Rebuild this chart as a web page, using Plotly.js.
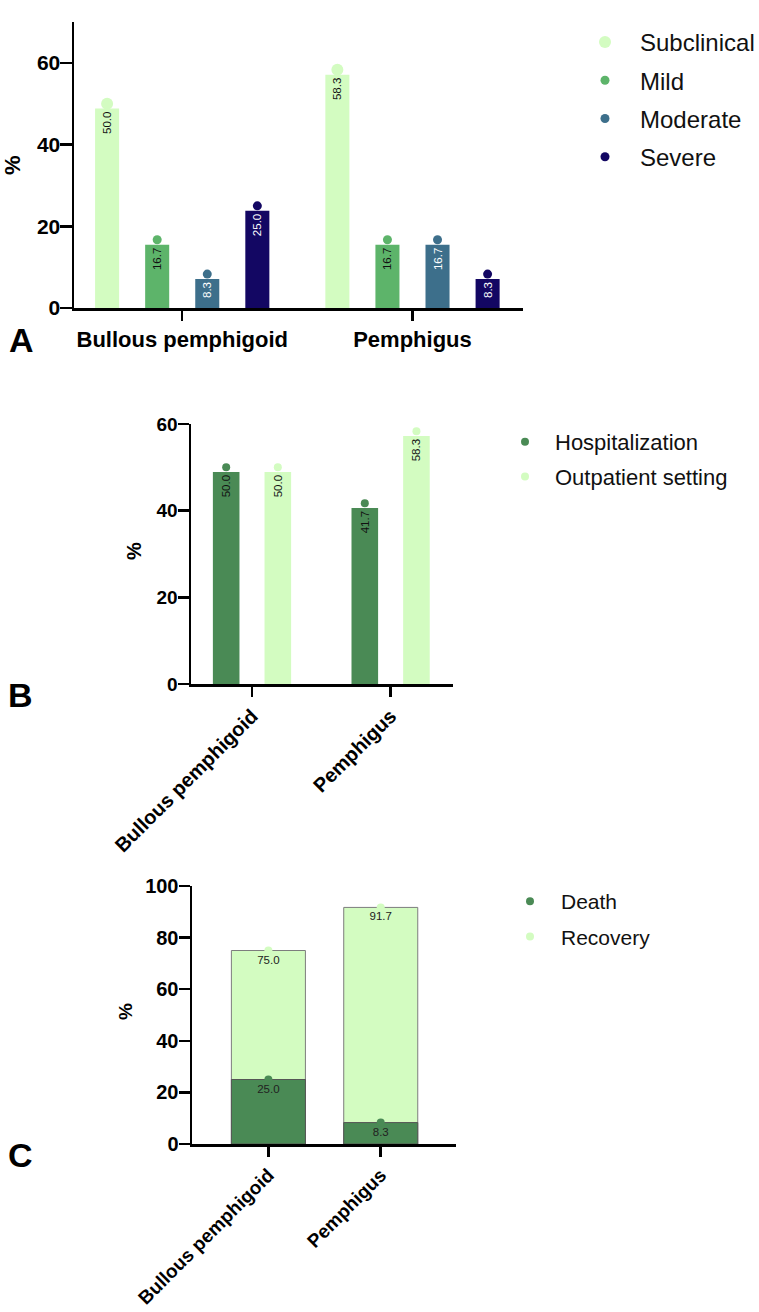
<!DOCTYPE html>
<html>
<head>
<meta charset="utf-8">
<script src="https://cdn.plot.ly/plotly-3.0.1.min.js"></script>
<style>
  html, body { margin: 0; padding: 0; background: #fff; }
  #wrap { position: relative; width: 759px; height: 1312px; background: #fff; }
  .panel { position: absolute; left: 0; width: 759px; }
</style>
</head>
<body>
<div id="wrap">
  <div id="pA" class="panel" style="top:0px;height:380px;"></div>
  <div id="pB" class="panel" style="top:380px;height:480px;"></div>
  <div id="pC" class="panel" style="top:820px;height:492px;"></div>
</div>
<script>
// ---------- DATA ----------
const categories = ['Bullous pemphigoid', 'Pemphigus'];

// Panel A: disease severity (%)
const severityNames = ['Subclinical', 'Mild', 'Moderate', 'Severe'];
const subclinical = [50.0, 58.3];
const mild = [16.7, 16.7];
const moderate = [8.3, 16.7];
const severe = [25.0, 8.3];

// Panel B: care setting (%)
const settingNames = ['Hospitalization', 'Outpatient setting'];
const hospitalization = [50.0, 41.7];
const outpatient = [50.0, 58.3];

// Panel C: outcome (%)
const outcomeNames = ['Death', 'Recovery'];
const death = [25.0, 8.3];
const recovery = [75.0, 91.7];

// ---------- STYLE ----------
const FONT = 'Liberation Sans, Arial, Helvetica, sans-serif';
const LIGHT = '#d3fcc1';
const MILD = '#5db46a';
const MOD = '#3d6f8b';
const SEV = '#130763';
const DARKG = '#4a8a55';

function axisStyle(extra) {
  return Object.assign({
    showline: true, linecolor: '#000', linewidth: 2.5,
    ticks: 'outside', tickcolor: '#000', tickwidth: 2.5,
    showgrid: false, zeroline: false, fixedrange: true
  }, extra);
}
const config = { staticPlot: true, displayModeBar: false };
const CLEAR = 'rgba(0,0,0,0)';

// ---------- PANEL A ----------
(function () {
  const W = 759, H = 380, L = 74, R = 236, T = 22, B = 72;
  const pw = W - L - R, ph = H - T - B;
  const series = [subclinical, mild, moderate, severe];
  const colors = [LIGHT, MILD, MOD, SEV];
  const txtColors = ['#111', '#111', '#fff', '#fff'];
  const dotSize = [12, 9, 9, 9];
  const traces = [];
  series.forEach((vals, i) => {
    traces.push({
      type: 'bar', x: categories, y: vals, yaxis: 'y2',
      name: severityNames[i], showlegend: false,
      marker: { color: colors[i] },
      texttemplate: '%{y:.1f}', textposition: 'inside', textangle: -90,
      insidetextanchor: 'end', constraintext: 'none',
      textfont: { family: FONT, size: 11.5, color: txtColors[i] },
      hoverinfo: 'skip'
    });
  });
  series.forEach((vals, i) => {
    traces.push({
      type: 'scatter', mode: 'markers', x: categories, y: vals,
      name: severityNames[i], legendgroup: 'g' + i,
      marker: { color: colors[i], size: dotSize[i] },
      hoverinfo: 'skip', cliponaxis: false
    });
  });
  const layout = {
    width: W, height: H, margin: { l: L, r: R, t: T, b: B },
    paper_bgcolor: CLEAR, plot_bgcolor: CLEAR,
    barmode: 'group', bargap: 0.13, bargroupgap: 0.52,
    scattermode: 'group', scattergap: 0.13,
    xaxis: axisStyle({ range: [-0.47, 1.48], ticklen: 10,
      tickfont: { family: FONT, size: 22, color: '#000', weight: 'bold' } }),
    yaxis: axisStyle({ range: [0, 70], tickvals: [0, 20, 40, 60], ticklen: 12, ticklabelstandoff: -5,
      tickfont: { family: FONT, size: 21, color: '#000', weight: 'bold' } }),
    yaxis2: { overlaying: 'y', range: [1.2, 71.2], visible: false, fixedrange: true },
    legend: { xref: 'container', yref: 'container', x: 570 / W, y: 1 - 20 / H,
      xanchor: 'left', yanchor: 'top', itemwidth: 60, traceorder: 'grouped',
      tracegroupgap: 4, bgcolor: CLEAR,
      font: { family: FONT, size: 24, color: '#111' } },
    annotations: [
      { xref: 'paper', yref: 'paper', x: (12 - L) / pw, y: 0.5, text: '%', showarrow: false,
        textangle: -90, xanchor: 'center', yanchor: 'middle',
        font: { family: FONT, size: 22, color: '#000', weight: 'bold' } },
      { xref: 'paper', yref: 'paper', x: (21 - L) / pw, y: 1 - (340 - T) / ph, text: 'A', showarrow: false,
        xanchor: 'center', yanchor: 'middle',
        font: { family: FONT, size: 34, color: '#000', weight: 'bold' } }
    ]
  };
  Plotly.newPlot('pA', traces, layout, config);
})();

// ---------- PANEL B ----------
(function () {
  const W = 759, H = 480, L = 191, R = 306, T = 44, B = 176;
  const pw = W - L - R, ph = H - T - B;
  const series = [hospitalization, outpatient];
  const colors = [DARKG, LIGHT];
  const traces = [];
  series.forEach((vals, i) => {
    traces.push({
      type: 'bar', x: categories, y: vals, yaxis: 'y2',
      name: settingNames[i], showlegend: false,
      marker: { color: colors[i] },
      texttemplate: '%{y:.1f}', textposition: 'inside', textangle: -90,
      insidetextanchor: 'end', constraintext: 'none',
      textfont: { family: FONT, size: 11.5, color: '#111' },
      hoverinfo: 'skip'
    });
  });
  series.forEach((vals, i) => {
    traces.push({
      type: 'scatter', mode: 'markers', x: categories, y: vals,
      name: settingNames[i], legendgroup: 'g' + i,
      marker: { color: colors[i], size: 8 },
      hoverinfo: 'skip', cliponaxis: false
    });
  });
  const layout = {
    width: W, height: H, margin: { l: L, r: R, t: T, b: B },
    paper_bgcolor: CLEAR, plot_bgcolor: CLEAR,
    barmode: 'group', bargap: 0.255, bargroupgap: 0.485,
    scattermode: 'group', scattergap: 0.255,
    xaxis: axisStyle({ range: [-0.44, 1.45], ticklen: 10, tickangle: -45,
      tickfont: { family: FONT, size: 20, color: '#000', weight: 'bold' } }),
    yaxis: axisStyle({ range: [0, 60], tickvals: [0, 20, 40, 60], ticklen: 11, ticklabelstandoff: -4,
      tickfont: { family: FONT, size: 19, color: '#000', weight: 'bold' } }),
    yaxis2: { overlaying: 'y', range: [1.06, 61.06], visible: false, fixedrange: true },
    legend: { xref: 'container', yref: 'container', x: 495 / W, y: 1 - 41 / H,
      xanchor: 'left', yanchor: 'top', itemwidth: 50, traceorder: 'grouped',
      tracegroupgap: 3, bgcolor: CLEAR,
      font: { family: FONT, size: 22, color: '#111' } },
    annotations: [
      { xref: 'paper', yref: 'paper', x: (134 - L) / pw, y: 1 - (171 - T) / ph, text: '%', showarrow: false,
        textangle: -90, xanchor: 'center', yanchor: 'middle',
        font: { family: FONT, size: 20, color: '#000', weight: 'bold' } },
      { xref: 'paper', yref: 'paper', x: (20 - L) / pw, y: 1 - (315 - T) / ph, text: 'B', showarrow: false,
        xanchor: 'center', yanchor: 'middle',
        font: { family: FONT, size: 34, color: '#000', weight: 'bold' } }
    ]
  };
  Plotly.newPlot('pB', traces, layout, config);
})();

// ---------- PANEL C ----------
(function () {
  const W = 759, H = 492, L = 192, R = 303, T = 66, B = 168;
  const pw = W - L - R, ph = H - T - B;
  const traces = [
    { type: 'bar', x: categories, y: recovery, name: outcomeNames[1], showlegend: false,
      marker: { color: LIGHT, line: { color: '#7d7d7d', width: 1 } },
      texttemplate: '%{y:.1f}', textposition: 'inside', insidetextanchor: 'end', textangle: 0,
      constraintext: 'none', textfont: { family: FONT, size: 11.5, color: '#222' }, hoverinfo: 'skip' },
    { type: 'bar', x: categories, y: death, name: outcomeNames[0], showlegend: false,
      marker: { color: DARKG, line: { color: '#555', width: 1 } },
      texttemplate: '%{y:.1f}', textposition: 'inside', insidetextanchor: 'end', textangle: 0,
      constraintext: 'none', textfont: { family: FONT, size: 11.5, color: '#222' }, hoverinfo: 'skip' },
    { type: 'scatter', mode: 'markers', x: categories, y: recovery, name: outcomeNames[1],
      legendgroup: 'g1', legendrank: 2, marker: { color: LIGHT, size: 8 }, hoverinfo: 'skip', cliponaxis: false },
    { type: 'scatter', mode: 'markers', x: categories, y: death, name: outcomeNames[0],
      legendgroup: 'g0', legendrank: 1, marker: { color: DARKG, size: 8 }, hoverinfo: 'skip', cliponaxis: false }
  ];
  const layout = {
    width: W, height: H, margin: { l: L, r: R, t: T, b: B },
    paper_bgcolor: CLEAR, plot_bgcolor: CLEAR,
    barmode: 'overlay', bargap: 0.341,
    xaxis: axisStyle({ range: [-0.68, 1.67], ticklen: 10, tickangle: -45,
      tickfont: { family: FONT, size: 19, color: '#000', weight: 'bold' } }),
    yaxis: axisStyle({ range: [0, 100], tickvals: [0, 20, 40, 60, 80, 100], ticklen: 11, ticklabelstandoff: -4,
      tickfont: { family: FONT, size: 20, color: '#000', weight: 'bold' } }),
    legend: { xref: 'container', yref: 'container', x: 499 / W, y: 1 - 61 / H,
      xanchor: 'left', yanchor: 'top', itemwidth: 52, traceorder: 'grouped',
      tracegroupgap: 5, bgcolor: CLEAR,
      font: { family: FONT, size: 21, color: '#111' } },
    annotations: [
      { xref: 'paper', yref: 'paper', x: (125 - L) / pw, y: 1 - (192 - T) / ph, text: '%', showarrow: false,
        textangle: -90, xanchor: 'center', yanchor: 'middle',
        font: { family: FONT, size: 19, color: '#000', weight: 'bold' } },
      { xref: 'paper', yref: 'paper', x: (20 - L) / pw, y: 1 - (335 - T) / ph, text: 'C', showarrow: false,
        xanchor: 'center', yanchor: 'middle',
        font: { family: FONT, size: 34, color: '#000', weight: 'bold' } }
    ]
  };
  Plotly.newPlot('pC', traces, layout, config);
})();
</script>
</body>
</html>
